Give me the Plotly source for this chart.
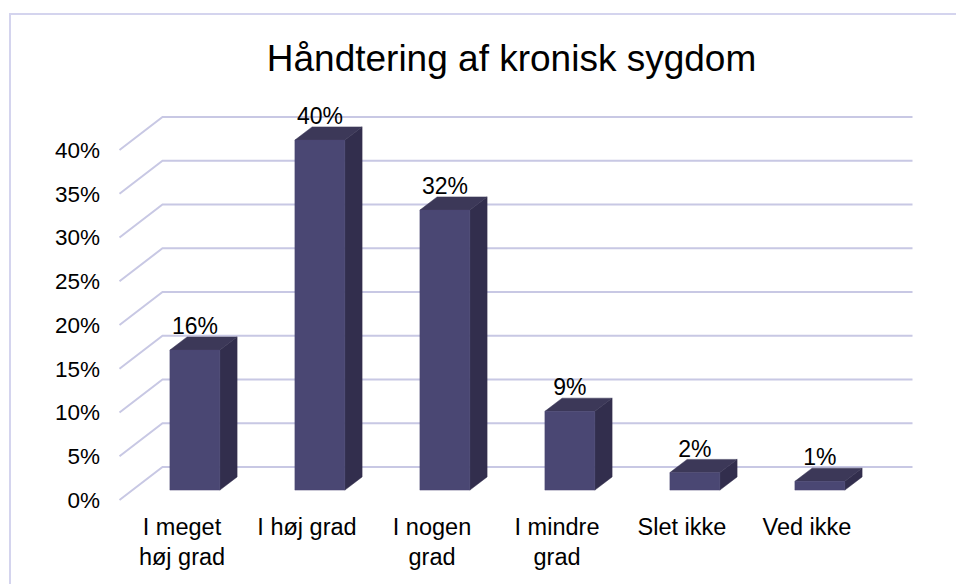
import plotly.graph_objects as go

# ---- data ----
categories = ["I meget<br>høj grad", "I høj grad", "I nogen<br>grad", "I mindre<br>grad", "Slet ikke", "Ved ikke"]
values = [16, 40, 32, 9, 2, 1]
tick_values = [0, 5, 10, 15, 20, 25, 30, 35, 40]
tick_labels = ["0%", "5%", "10%", "15%", "20%", "25%", "30%", "35%", "40%"]
title_text = "Håndtering af kronisk sygdom"

# ---- 3D projection parameters (style, in axis units) ----
PX_PER_CAT = 125.0
PX_PER_PCT = 8.75
DX = 43 / PX_PER_CAT      # depth offset in category units
DY = 33 / PX_PER_PCT      # depth offset in value units
F1, F2 = 0.3, 0.7         # bar front/back depth fractions
HW = 0.2                  # bar half width
LABEL_NUDGE = -3 / PX_PER_PCT

FRONT = "#4a4773"
TOP = "#3c3858"
SIDE = "#322e4d"
GRID = "rgb(200,200,228)"
FONT = "Liberation Sans, Arial, sans-serif"

n = len(categories)
xs = list(range(n))

# gridlines: left wall diagonal + back wall horizontal
gx, gy = [], []
for t in tick_values:
    gx += [-0.5, -0.5 + DX, n - 0.5 + DX, None]
    gy += [t, t + DY, t + DY, None]

def P(x, y, f):
    return x + f * DX, y + f * DY

fx, fy, tx, ty, sx, sy = [], [], [], [], [], []
for i, v in zip(xs, values):
    pts = [P(i - HW, 0, F1), P(i + HW, 0, F1), P(i + HW, v, F1), P(i - HW, v, F1), P(i - HW, 0, F1)]
    fx += [p[0] for p in pts] + [None]; fy += [p[1] for p in pts] + [None]
    pts = [P(i - HW, v, F1), P(i + HW, v, F1), P(i + HW, v, F2), P(i - HW, v, F2), P(i - HW, v, F1)]
    tx += [p[0] for p in pts] + [None]; ty += [p[1] for p in pts] + [None]
    pts = [P(i + HW, 0, F1), P(i + HW, 0, F2), P(i + HW, v, F2), P(i + HW, v, F1), P(i + HW, 0, F1)]
    sx += [p[0] for p in pts] + [None]; sy += [p[1] for p in pts] + [None]

fig = go.Figure()
fig.add_trace(go.Scatter(x=gx, y=gy, mode="lines", line=dict(color=GRID, width=2),
                         hoverinfo="skip", showlegend=False))
fig.add_trace(go.Scatter(x=sx, y=sy, mode="lines", fill="toself", fillcolor=SIDE,
                         line=dict(color=SIDE, width=0.5), hoverinfo="skip", showlegend=False))
fig.add_trace(go.Scatter(x=tx, y=ty, mode="lines", fill="toself", fillcolor=TOP,
                         line=dict(color=TOP, width=0.5), hoverinfo="skip", showlegend=False))
fig.add_trace(go.Scatter(x=fx, y=fy, mode="lines", fill="toself", fillcolor=FRONT,
                         line=dict(color=FRONT, width=0.5), hoverinfo="skip", showlegend=False))
fig.add_trace(go.Scatter(
    x=[i + F1 * DX for i in xs], y=[v + F2 * DY + LABEL_NUDGE for v in values],
    mode="text", text=[f"{v}%" for v in values], textposition="top center",
    textfont=dict(family=FONT, size=23, color="black"),
    cliponaxis=False, hoverinfo="skip", showlegend=False))

L, R, T, B = 104, 31, 100, 79
W, H = 956, 584
fig.update_layout(
    width=W, height=H, autosize=False,
    margin=dict(l=L, r=R, t=T, b=B),
    paper_bgcolor="white", plot_bgcolor="white",
    font=dict(family=FONT, size=23, color="black"),
    title=dict(text=title_text, x=(511.5 - L) / (W - L - R), xref="paper", xanchor="center",
               y=1 - 58 / H, yref="container", yanchor="middle",
               font=dict(family=FONT, size=37, color="black")),
    xaxis=dict(range=[(L - 119.5) / PX_PER_CAT - 0.5, (W - R - 119.5) / PX_PER_CAT - 0.5],
               tickmode="array", tickvals=xs, ticktext=categories,
               showgrid=False, zeroline=False, showline=False, ticks="",
               ticklabelstandoff=5, tickfont=dict(size=23.5),
               fixedrange=True),
    yaxis=dict(range=[(500 - (H - B)) / PX_PER_PCT, (500 - T) / PX_PER_PCT],
               tickmode="array", tickvals=tick_values, ticktext=tick_labels,
               showgrid=False, zeroline=False, showline=False, ticks="",
               ticklabelstandoff=3, tickfont=dict(size=22.5),
               fixedrange=True),
    shapes=[dict(type="rect", xref="paper", yref="paper",
                 x0=(10 - L) / (W - L - R), x1=1.2,
                 y0=-0.5, y1=(H - B - 14) / (H - T - B),
                 line=dict(color="rgb(212,212,238)", width=2), fillcolor="rgba(0,0,0,0)",
                 layer="below")],
)

fig.write_html("out.html", config={"displayModeBar": False},
               post_script="document.body.style.margin='0';")
